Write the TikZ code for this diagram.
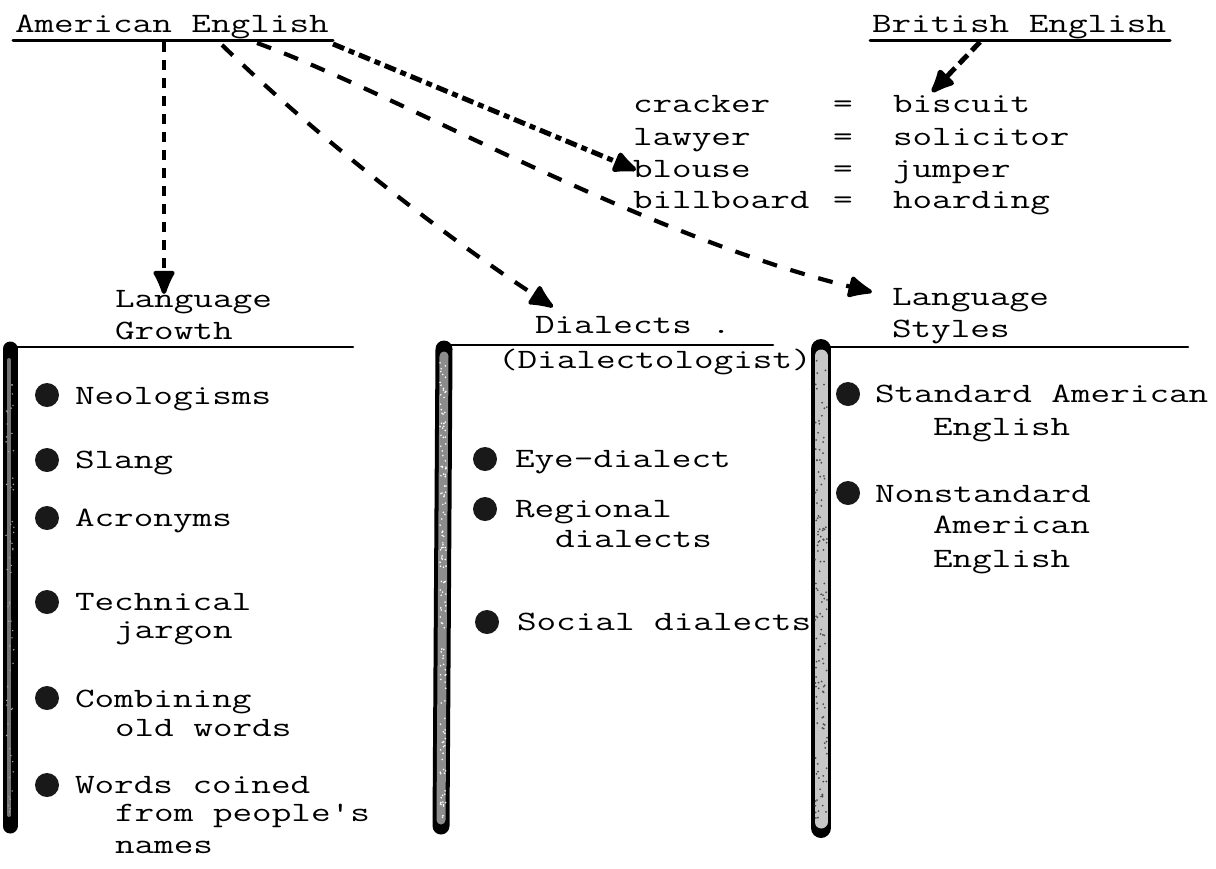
\documentclass[tikz,border=0pt]{standalone}
\usepackage{fontspec}
\setmonofont[FakeStretch=1.36]{Latin Modern Mono}
\usetikzlibrary{arrows.meta}
\begin{document}
\begin{tikzpicture}[x=1pt,y=-1pt,
  tw/.style={font=\ttfamily\fontsize{28}{30}\selectfont, anchor=base west, inner sep=0pt, outer sep=0pt},
  hrule/.style={line width=2.6pt, black, line cap=round},
  ulrule/.style={line width=3pt, black, line cap=round},
  bul/.style={circle, fill=black!90, minimum size=24pt, inner sep=0pt},
  blob/.style={-{Latex[length=29pt,width=25pt,round]}},
  dshort/.style={line width=4.4pt, dash pattern=on 10pt off 8pt, blob},
  dlong/.style={line width=4.2pt, dash pattern=on 15pt off 14pt, blob},
  ddense/.style={line width=5pt, dash pattern=on 12pt off 5pt on 6pt off 5pt, blob},
  barout/.style={line width=#1, black, line cap=round},
  barin/.style={line width=#1, line cap=round}
]
\useasboundingbox (0,0) rectangle (1216,868);

% ---- top headings -------------------------------------------------
\node[tw] (ae) at (15,32) {American English};
\draw[ulrule] (13,40) -- (333,40);
\node[tw] (be) at (872,32) {British English};
\draw[ulrule] (870,40) -- (1170,40);

% ---- word pairs ---------------------------------------------------
\node[tw] (w1) at (633,112) {cracker};
\node[tw] (w2) at (633,145) {lawyer};
\node[tw] (w3) at (633,177) {blouse};
\node[tw] (w4) at (633,208) {billboard};
\node[tw] (e1) at (833,112) {=};
\node[tw] (e2) at (833,145) {=};
\node[tw] (e3) at (833,177) {=};
\node[tw] (e4) at (833,208) {=};
\node[tw] (b1) at (893,112) {biscuit};
\node[tw] (b2) at (893,145) {solicitor};
\node[tw] (b3) at (893,177) {jumper};
\node[tw] (b4) at (893,208) {hoarding};

% ---- column headings ----------------------------------------------
\node[tw] (lg1) at (115,307) {Language};
\node[tw] (lg2) at (115,339) {Growth};
\node[tw] (dl)  at (535,333) {Dialects .};
\node[tw] (ls1) at (892,305) {Language};
\node[tw] (ls2) at (892,337) {Styles};
\draw[hrule] (8,347) -- (353,347);
\draw[hrule] (445,345) -- (773,345);
\draw[hrule] (815,347) -- (1188,347);

% ---- language growth ----------------------------------------------
\node[bul] (gb1) at (47,395) {};
\node[tw]  (g1)  at (75,404) {Neologisms};
\node[bul] (gb2) at (47,460) {};
\node[tw]  (g2)  at (75,468) {Slang};
\node[bul] (gb3) at (47,518) {};
\node[tw]  (g3)  at (75,526) {Acronyms};
\node[bul] (gb4) at (47,602) {};
\node[tw]  (g4a) at (75,610) {Technical};
\node[tw]  (g4b) at (115,638) {jargon};
\node[bul] (gb5) at (47,698) {};
\node[tw]  (g5a) at (75,707) {Combining};
\node[tw]  (g5b) at (115,736) {old words};
\node[bul] (gb6) at (47,785) {};
\node[tw]  (g6a) at (75,793) {Words coined};
\node[tw]  (g6b) at (115,821) {from people's};
\node[tw]  (g6c) at (115,853) {names};

% ---- dialects -----------------------------------------------------
\node[tw]  (d0)  at (498,368) {(Dialectologist)};
\node[bul] (db1) at (485,459) {};
\node[tw]  (d1)  at (515,467) {Eye-dialect};
\node[bul] (db2) at (485,509) {};
\node[tw]  (d2a) at (515,517) {Regional};
\node[tw]  (d2b) at (555,547) {dialects};
\node[bul] (db3) at (487,622) {};
\node[tw]  (d3)  at (517,630) {Social dialects};

% ---- language styles ----------------------------------------------
\node[bul] (sb1) at (848,394) {};
\node[tw]  (s1a) at (875,402) {Standard American};
\node[tw]  (s1b) at (933,435) {English};
\node[bul] (sb2) at (848,493) {};
\node[tw]  (s2a) at (875,502) {Nonstandard};
\node[tw]  (s2b) at (933,533) {American};
\node[tw]  (s2c) at (933,567) {English};

% ---- felt-pen column bars -----------------------------------------
\draw[barout=15pt] (10,349) -- (10,826);
\draw[barin=4pt, black!55] (9,360) -- (9,815);
\draw[barout=17pt] (444,349) -- (441,826);
\draw[barin=9pt, black!45] (444,356) -- (441,820);
\draw[barout=20pt] (821,349) -- (821,828);
\draw[barin=13pt, black!22] (821,356) -- (821,822);
\pgfmathsetseed{42}
\foreach \k in {1,...,140}{
  \fill[white] (440+6*rnd,360+460*rnd) circle (0.9);
  \fill[black!70] (815+12*rnd,360+460*rnd) circle (1.0);
}
\foreach \k in {1,...,60}{
  \fill[black!35] (6+8*rnd,360+460*rnd) circle (0.8);
}

% ---- connectors ---------------------------------------------------
\coordinate (aeG) at (164,42);
\coordinate (aeD) at (222,45);
\coordinate (aeS) at (257,43);
\coordinate (aeB) at (333,44);
\coordinate (beB) at (980,42);
\coordinate (tipG) at (164,294);
\coordinate (tipD) at (553,307);
\coordinate (tipS) at (872,292);
\coordinate (tipB) at (636,170);
\coordinate (tipBB) at (932,92);

\draw[dshort] (aeG) -- (tipG);
\draw[dlong] (aeD) .. controls (320,140) and (450,240) .. (tipD);
\draw[dlong] (aeS) .. controls (400,95) and (640,235) .. (tipS);
\draw[ddense] (aeB) -- (tipB);
\draw[line width=5pt, dash pattern=on 12pt off 6pt, blob] (beB) -- (tipBB);
\end{tikzpicture}
\end{document}
